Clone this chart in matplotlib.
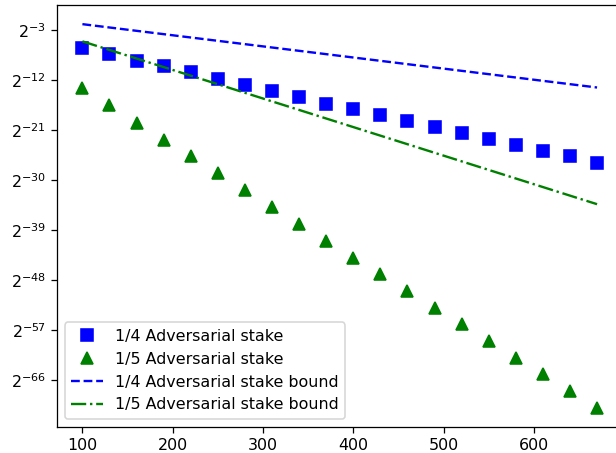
import matplotlib
matplotlib.use("Agg")
import matplotlib.pyplot as plt
import numpy as np
from matplotlib.ticker import NullLocator

# slot counts
slots = [100, 130, 160, 190, 220, 250, 280, 310, 340, 370,
         400, 430, 460, 490, 520, 550, 580, 610, 640, 670]

# log2 of failure probability
exp_quarter = [-6.3, -7.4, -8.7, -9.6, -10.7, -11.9, -13.0, -14.1, -15.2, -16.3,
               -17.3, -18.4, -19.5, -20.5, -21.6, -22.7, -23.8, -24.8, -25.8, -26.9]
exp_fifth = [-13.5, -16.6, -19.7, -22.8, -25.8, -28.8, -31.9, -34.9, -38.0, -41.1,
             -44.0, -47.0, -50.0, -53.0, -56.0, -59.0, -62.0, -65.0, -68.0, -71.0]

# bounds (straight in log space)
bound_x = [100, 670]
bound_quarter = [-2.0, -13.4]
bound_fifth = [-5.1, -34.4]

ytick_exps = [-66, -57, -48, -39, -30, -21, -12, -3]

fig = plt.figure(figsize=(616 / 114, 453 / 114), dpi=114)
ax = fig.add_axes([0.092, 0.058, 0.919, 0.931])

ax.plot(slots, 2.0 ** np.array(exp_quarter), "bs", markersize=7, label="1/4 Adversarial stake")
ax.plot(slots, 2.0 ** np.array(exp_fifth), "g^", markersize=7, label="1/5 Adversarial stake")
ax.plot(bound_x, 2.0 ** np.array(bound_quarter), "b--", label="1/4 Adversarial stake bound")
ax.plot(bound_x, 2.0 ** np.array(bound_fifth), "g-.", label="1/5 Adversarial stake bound")

ax.set_yscale("log", base=2)
ax.set_yticks(2.0 ** np.array(ytick_exps))
ax.yaxis.set_minor_locator(NullLocator())
ax.set_xticks([100, 200, 300, 400, 500, 600])

ax.legend(loc="lower left")

fig.savefig("out.png", dpi=114)
